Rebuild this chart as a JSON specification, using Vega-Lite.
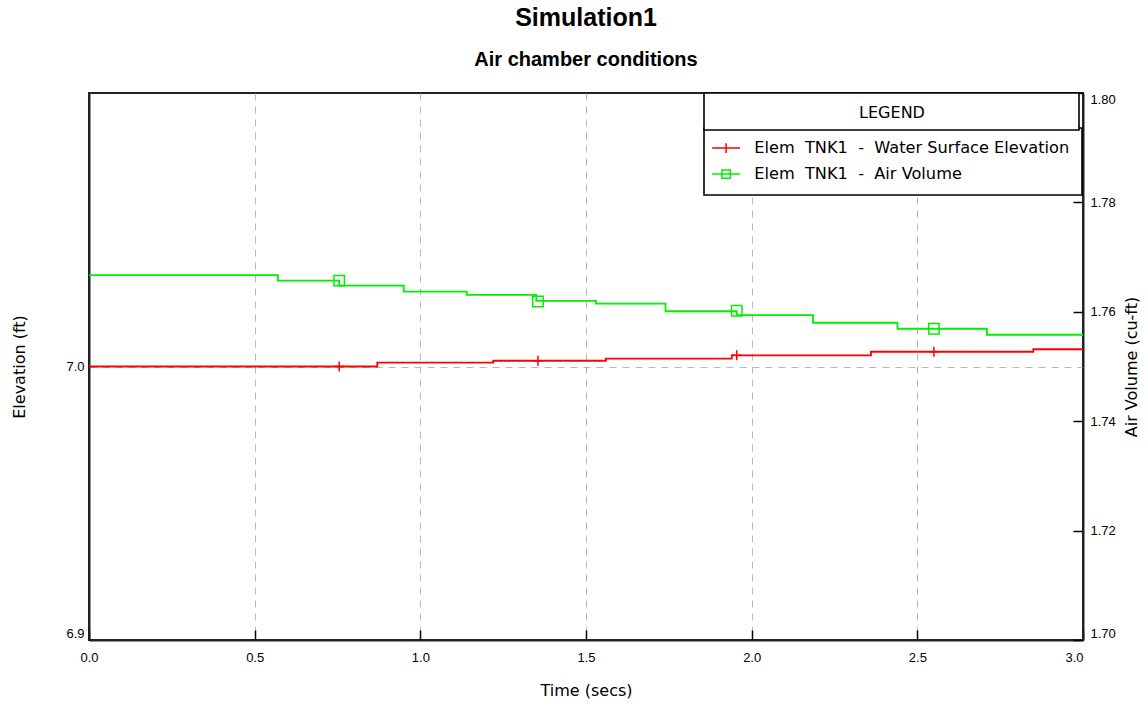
{
  "$schema": "https://vega.github.io/schema/vega-lite/v6.json",
  "width": 994,
  "height": 547,
  "autosize": {"type": "none"},
  "padding": {"left": 89, "top": 93, "right": 65, "bottom": 65},
  "background": "white",
  "title": {
    "text": "Simulation1",
    "subtitle": "Air chamber conditions",
    "anchor": "middle",
    "font": "Liberation Sans",
    "fontSize": 25,
    "fontWeight": "bold",
    "color": "black",
    "subtitleFont": "Liberation Sans",
    "subtitleFontSize": 20,
    "subtitleFontWeight": "bold",
    "subtitleColor": "black",
    "subtitlePadding": 19,
    "offset": 22
  },
  "datasets": {
    "elevation": [
      {"t": 0, "ft": 7.0},
      {"t": 0.87, "ft": 7.0014},
      {"t": 1.22, "ft": 7.0021},
      {"t": 1.56, "ft": 7.0029},
      {"t": 1.94, "ft": 7.0041},
      {"t": 2.36, "ft": 7.0054},
      {"t": 2.85, "ft": 7.0063},
      {"t": 3.0, "ft": 7.0063}
    ],
    "elevationMarks": [
      {"t": 0.755, "ft": 7.0},
      {"t": 1.355, "ft": 7.0021},
      {"t": 1.955, "ft": 7.0041},
      {"t": 2.55, "ft": 7.0054}
    ],
    "airVolume": [
      {"t": 0, "cuft": 1.7667},
      {"t": 0.57, "cuft": 1.7657},
      {"t": 0.755, "cuft": 1.7648},
      {"t": 0.95, "cuft": 1.7637},
      {"t": 1.14, "cuft": 1.7631},
      {"t": 1.35, "cuft": 1.762},
      {"t": 1.53, "cuft": 1.7615},
      {"t": 1.74, "cuft": 1.7601},
      {"t": 1.955, "cuft": 1.7594},
      {"t": 2.185, "cuft": 1.758},
      {"t": 2.44, "cuft": 1.7569},
      {"t": 2.71, "cuft": 1.7558},
      {"t": 3.0, "cuft": 1.7558}
    ],
    "airMarks": [
      {"t": 0.755, "cuft": 1.7657},
      {"t": 1.355, "cuft": 1.7619},
      {"t": 1.955, "cuft": 1.7602},
      {"t": 2.55, "cuft": 1.7569}
    ]
  },
  "encoding": {
    "x": {
      "field": "t",
      "type": "quantitative",
      "title": "Time (secs)",
      "scale": {"domain": [0, 3], "nice": false, "zero": false},
      "axis": {
        "orient": "bottom",
        "values": [0, 0.5, 1, 1.5, 2, 2.5, 3],
        "format": ".1f",
        "domain": true,
        "domainColor": "#222222",
        "domainWidth": 2,
        "tickSize": -10,
        "tickColor": "black",
        "tickWidth": 1.5,
        "labelPadding": 21,
        "labelFont": "Liberation Sans",
        "labelFontSize": 13,
        "labelColor": "black",
        "labelFlush": false,
        "labelAlign": {"condition": {"test": "datum.value === 3", "value": "right"}, "value": "center"},
        "grid": true,
        "gridColor": "#b8b8b8",
        "gridDash": [7, 6],
        "gridWidth": 1,
        "gridOpacity": {"condition": {"test": "datum.value === 0 || datum.value === 3", "value": 0}, "value": 1},
        "titleFont": "DejaVu Sans",
        "titleFontSize": 16,
        "titleFontWeight": "normal",
        "titleColor": "black",
        "titlePadding": 18
      }
    }
  },
  "layer": [
    {
      "encoding": {
        "y": {
          "field": "ft",
          "type": "quantitative",
          "title": "Elevation (ft)",
          "scale": {"domain": [6.9, 7.1], "nice": false, "zero": false},
          "axis": {
            "orient": "left",
            "values": [6.9, 7.0],
            "format": ".1f",
            "domain": true,
            "domainColor": "#222222",
            "domainWidth": 2,
            "ticks": false,
            "labelPadding": 5,
            "labelFlush": true,
            "labelFont": "Liberation Sans",
            "labelFontSize": 13,
            "labelColor": "black",
            "grid": true,
            "gridColor": "#b8b8b8",
            "gridDash": [7, 6],
            "gridWidth": 1,
            "gridOpacity": {"condition": {"test": "datum.value < 6.95", "value": 0}, "value": 1},
            "titleFont": "DejaVu Sans",
            "titleFontSize": 16,
            "titleFontWeight": "normal",
            "titleColor": "black",
            "titlePadding": 38
          }
        }
      },
      "layer": [
        {
          "data": {"name": "elevation"},
          "mark": {"type": "line", "interpolate": "step-after", "strokeWidth": 1.8},
          "encoding": {
            "color": {
              "datum": "Elem\u00a0 TNK1\u00a0 -\u00a0 Water Surface Elevation",
              "type": "nominal",
              "scale": {
                "domain": ["Elem\u00a0 TNK1\u00a0 -\u00a0 Water Surface Elevation", "Elem\u00a0 TNK1\u00a0 -\u00a0 Air Volume"],
                "range": ["#ff0000", "#00f000"]
              },
              "legend": {
                "title": null,
                "orient": "none",
                "legendX": 615,
                "legendY": 35,
                "direction": "vertical",
                "padding": 12,
                "strokeColor": "black",
                "fillColor": "white",
                "symbolSize": 196,
                "symbolStrokeWidth": 1.5,
                "symbolOffset": 2,
                "labelOffset": 20,
                "labelFont": "DejaVu Sans",
                "labelFontSize": 16.2,
                "labelColor": "black",
                "labelLimit": 500,
                "rowPadding": 9,
                "encoding": {
                  "symbols": {
                    "shape": {
                      "condition": {"test": "datum.index === 0", "value": "M-2,0H2M0,-0.7V0.7"},
                      "value": "M-2,0H2M-0.6,-0.6H0.6V0.6H-0.6Z"
                    },
                    "fill": {"value": "transparent"},
                    "strokeWidth": {"value": 1.5}
                  },
                  "legend": {"strokeWidth": {"value": 1.6}}
                }
              }
            },
            "strokeDash": {
              "datum": "LEGEND",
              "type": "nominal",
              "scale": {"domain": ["LEGEND"], "range": [[1, 0]]},
              "legend": {
                "title": "LEGEND",
                "orient": "none",
                "legendX": 615,
                "legendY": 0,
                "titleAnchor": "middle",
                "titleFont": "DejaVu Sans",
                "titleFontSize": 16,
                "titleFontWeight": "normal",
                "titleColor": "black",
                "titlePadding": 0,
                "padding": 9,
                "strokeColor": "black",
                "fillColor": "white",
                "symbolSize": 0,
                "symbolStrokeWidth": 0,
                "symbolOpacity": 0,
                "labelExpr": "''",
                "labelFontSize": 1,
                "labelOffset": 356,
                "encoding": {
                  "title": {"dy": {"value": 3}},
                  "legend": {"strokeWidth": {"value": 1.6}}
                }
              }
            }
          }
        },
        {
          "data": {"name": "elevationMarks"},
          "mark": {
            "type": "point",
            "shape": "M-1,0H1M0,-1V1",
            "size": 100,
            "filled": false,
            "color": "#ff0000",
            "strokeWidth": 1.5,
            "opacity": 1
          }
        }
      ]
    },
    {
      "encoding": {
        "y": {
          "field": "cuft",
          "type": "quantitative",
          "title": "Air Volume (cu-ft)",
          "scale": {"domain": [1.7, 1.8], "nice": false, "zero": false},
          "axis": {
            "orient": "right",
            "values": [1.7, 1.72, 1.74, 1.76, 1.78, 1.8],
            "format": ".2f",
            "domain": true,
            "domainColor": "#222222",
            "domainWidth": 2,
            "tickSize": -10,
            "tickColor": "black",
            "tickWidth": 1.5,
            "labelPadding": 17,
            "labelFlush": true,
            "labelFont": "Liberation Sans",
            "labelFontSize": 13,
            "labelColor": "black",
            "grid": false,
            "titleAngle": 270,
            "titleBaseline": "top",
            "titleFont": "DejaVu Sans",
            "titleFontSize": 16,
            "titleFontWeight": "normal",
            "titleColor": "black",
            "titlePadding": 8
          }
        }
      },
      "layer": [
        {
          "data": {"name": "airVolume"},
          "mark": {"type": "line", "interpolate": "step-after", "strokeWidth": 1.8},
          "encoding": {
            "color": {
              "datum": "Elem\u00a0 TNK1\u00a0 -\u00a0 Air Volume",
              "type": "nominal",
              "scale": {
                "domain": ["Elem\u00a0 TNK1\u00a0 -\u00a0 Water Surface Elevation", "Elem\u00a0 TNK1\u00a0 -\u00a0 Air Volume"],
                "range": ["#ff0000", "#00f000"]
              }
            }
          }
        },
        {
          "data": {"name": "airMarks"},
          "mark": {
            "type": "point",
            "shape": "square",
            "size": 110,
            "filled": false,
            "color": "#00f000",
            "strokeWidth": 1.5,
            "opacity": 1
          }
        }
      ]
    }
  ],
  "resolve": {"scale": {"y": "independent"}},
  "config": {
    "view": {"stroke": "#222222", "strokeWidth": 2}
  }
}
